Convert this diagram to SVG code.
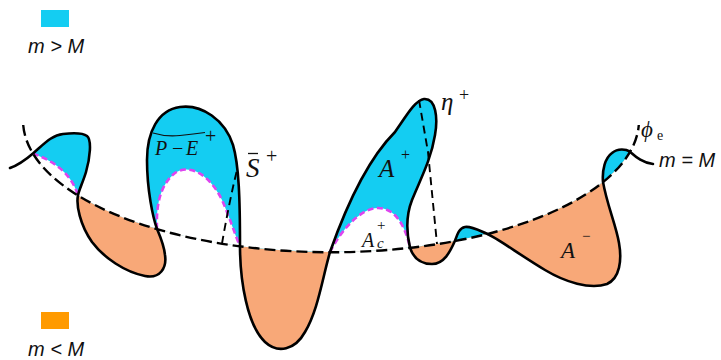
<svg xmlns="http://www.w3.org/2000/svg" width="721" height="360" viewBox="0 0 721 360">
<style>
.serif{font-family:"Liberation Serif","Times New Roman",serif;fill:#111}
.sans{font-family:"Liberation Sans",Arial,sans-serif;font-style:italic;fill:#111}
.it{font-style:italic}
.base{fill:none;stroke:#000;stroke-width:2.4;stroke-dasharray:11 5}
.mag{fill:none;stroke:#DD44EE;stroke-width:2.6;stroke-dasharray:6 3.5}
.vd{fill:none;stroke:#000;stroke-width:1.9;stroke-dasharray:8 5}
.solid{fill:none;stroke:#000;stroke-width:2.6;stroke-linejoin:round;stroke-linecap:round}
</style>
<defs>
<clipPath id="inside"><ellipse cx="331" cy="120" rx="308" ry="132"/></clipPath>
<path id="lobes" d="M33,153.4 C44,144 52,135 63,134 C72,133 83,133 87,136 C92,140 90,158 86,172 C83,182 79,190 78,195.3 C76,205 80,225 92,242 C104,258 125,272 145,276 C160,279 167,268 165,255 C164,245 160,236 157,228.9 C153,218 147,190 147,160 C147,132 158,110 180,107 C202,104 225,120 233,145 C239,165 240,200 240,246.1 C240,280 247,325 265,342 C278,354 295,350 305,332 C318,310 322,280 330,252 C342,218 365,162 395,132 C405,118 415,100 424,99 C436,98 438,118 435,135 C431,160 420,180 412,200 C405,218 407,235 410,247.6 C413,257 420,264 432,264 C444,264 450,252 455,240.8 C457,235 459,228 465,227 C472,226 480,231 487,233.8 C497,238 520,255 545,270 C565,282 590,290 607,284 C620,278 622,260 619,243 C616,225 607,205 603,181.9 C602,170 605,158 612,153 C618,148 626,149 630,151.7 A308,132 0 0 1 33,153.4 Z"/>
</defs>

<g id="legend">
<rect x="41" y="10" width="28" height="17" fill="#14CDF2"/>
<text class="sans" x="28" y="53" font-size="20">m &gt; M</text>
<rect x="41" y="312" width="28" height="17" fill="#FF9A00"/>
<text class="sans" x="28" y="356" font-size="20">m &lt; M</text>
</g>

<g id="regions">
<use href="#lobes" fill="#F8A878"/>
<use href="#lobes" fill="#14CDF2" clip-path="url(#inside)"/>
<g clip-path="url(#inside)" fill="#fff">
<path d="M33,153.4 C50,160 70,170 78,195.3 L78,270 L33,270 Z"/>
<path d="M157,228.9 C156,205 160,185 175,173 C190,163 210,175 222,200 C230,218 235,235 240,246.1 L240,290 L157,290 Z"/>
<path d="M330,252 C340,232 360,208 378,208 C395,208 405,225 410,247.6 L410,300 L330,300 Z"/>
</g>
</g>

<g id="connectors">
<path class="mag" d="M33,153.4 C50,160 70,170 78,195.3"/>
<path class="mag" d="M157,228.9 C156,205 160,185 175,173 C190,163 210,175 222,200 C230,218 235,235 240,246.1"/>
<path class="mag" d="M330,252 C340,232 360,208 378,208 C395,208 405,225 410,247.6"/>
<path class="base" d="M23.2,125 A308,132 0 0 0 638.8,125"/>
<path class="vd" d="M222,243.5 C226,220 232,190 237,170"/>
<path class="vd" d="M419,100 L428,152 L437,244"/>
<path class="solid" d="M10,168 C18,165 26,159.4 33,153.4 C44,144 52,135 63,134 C72,133 83,133 87,136 C92,140 90,158 86,172 C83,182 79,190 78,195.3 C76,205 80,225 92,242 C104,258 125,272 145,276 C160,279 167,268 165,255 C164,245 160,236 157,228.9 C153,218 147,190 147,160 C147,132 158,110 180,107 C202,104 225,120 233,145 C239,165 240,200 240,246.1 C240,280 247,325 265,342 C278,354 295,350 305,332 C318,310 322,280 330,252 C342,218 365,162 395,132 C405,118 415,100 424,99 C436,98 438,118 435,135 C431,160 420,180 412,200 C405,218 407,235 410,247.6 C413,257 420,264 432,264 C444,264 450,252 455,240.8 C457,235 459,228 465,227 C472,226 480,231 487,233.8 C497,238 520,255 545,270 C565,282 590,290 607,284 C620,278 622,260 619,243 C616,225 607,205 603,181.9 C602,170 605,158 612,153 C618,148 626,149 630,151.7 C635,156 642,163 653,164"/>
</g>

<g id="labels">
<text class="serif" font-size="20" y="155"><tspan class="it" x="155">P</tspan><tspan x="172">−</tspan><tspan class="it" x="186">E</tspan></text>
<path d="M153,133 Q166,137 180,135.5 T205,132.5" fill="none" stroke="#111" stroke-width="1.2"/>
<text class="serif" font-size="20" x="205" y="143">+</text>
<text class="serif it" font-size="27" x="246" y="177">S</text>
<line x1="248" y1="153.5" x2="258" y2="153.5" stroke="#111" stroke-width="1.3"/>
<text class="serif" font-size="20" x="266" y="163">+</text>
<text class="serif it" font-size="25" x="379" y="177">A</text>
<text class="serif" font-size="16" x="401" y="160">+</text>
<text class="serif it" font-size="20" x="362" y="247">A</text>
<text class="serif it" font-size="15" x="377" y="248">c</text>
<text class="serif" font-size="15" x="377" y="230">+</text>
<text class="serif it" font-size="25" x="441" y="110">η</text>
<text class="serif" font-size="18" x="459" y="101">+</text>
<text class="serif it" font-size="23" x="561" y="258">A</text>
<text class="serif" font-size="15" x="582" y="241">−</text>
<text class="serif it" font-size="23" x="641" y="137">ϕ</text>
<text class="serif" font-size="14" x="657" y="140">e</text>
<text class="sans" font-size="20" x="659" y="167">m = M</text>
</g>
</svg>
